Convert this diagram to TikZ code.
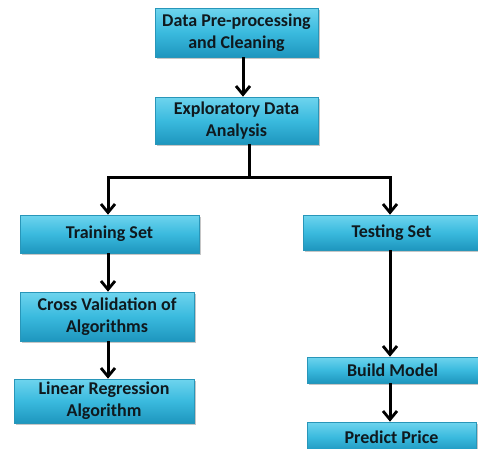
\documentclass[tikz,border=0pt]{standalone}
\usepackage{fontspec}
\setmainfont{Carlito}
\usetikzlibrary{arrows.meta,shadows}
\definecolor{boxtop}{RGB}{110,212,238}
\definecolor{boxmid}{RGB}{58,186,222}
\definecolor{boxbot}{RGB}{30,150,190}
\definecolor{boxline}{RGB}{40,150,185}
\definecolor{txt}{RGB}{15,25,30}
\tikzset{
  box/.style={draw=boxline, line width=0.6pt, top color=boxtop, bottom color=boxbot, middle color=boxmid,
    drop shadow={shadow xshift=1.5pt, shadow yshift=-2pt, opacity=0.45},
    align=center, text=txt, font=\fontsize{18}{22}\selectfont\bfseries, inner sep=0pt},
  conn/.style={line width=3pt, black},
  arr/.style={conn, -{Straight Barb[length=8.5pt,width=14pt,line width=2.8pt]}}
}
\begin{document}
\begin{tikzpicture}[x=1pt,y=-1pt]
\useasboundingbox (0,0) rectangle (478,448);
\node[box, minimum width=163, minimum height=49] (pre) at (236.5,32.5) {Data Pre-processing\\and Cleaning};
\node[box, minimum width=163, minimum height=47] (eda) at (236.5,120.5) {Exploratory Data\\Analysis};
\node[box, minimum width=179, minimum height=38] (train) at (109.5,234) {Training Set};
\node[box, minimum width=177, minimum height=35] (test) at (391.5,232.5) {Testing Set};
\node[box, minimum width=174, minimum height=49] (cv) at (107,316.5) {Cross Validation of\\Algorithms};
\node[box, minimum width=180, minimum height=44] (lr) at (104,401) {Linear Regression\\Algorithm};
\node[box, minimum width=171, minimum height=26] (build) at (392.5,370) {Build Model};
\node[box, minimum width=169, minimum height=30] (pred) at (391.5,437) {Predict Price};
\coordinate (split) at (249,177);
\draw[arr] (pre.south -| 243,0) -- (243,0 |- eda.north);
\draw[conn] (eda.south -| 249,0) -- (split);
\draw[arr] (split) -| (108,0 |- train.north);
\draw[arr] (split) -| (390,0 |- test.north);
\draw[arr] (train.south -| 108,0) -- (108,0 |- cv.north);
\draw[arr] (cv.south -| 108,0) -- (108,0 |- lr.north);
\draw[arr] (test.south -| 390,0) -- (390,0 |- build.north);
\draw[arr] (build.south -| 390,0) -- (390,0 |- pred.north);
\end{tikzpicture}
\end{document}
